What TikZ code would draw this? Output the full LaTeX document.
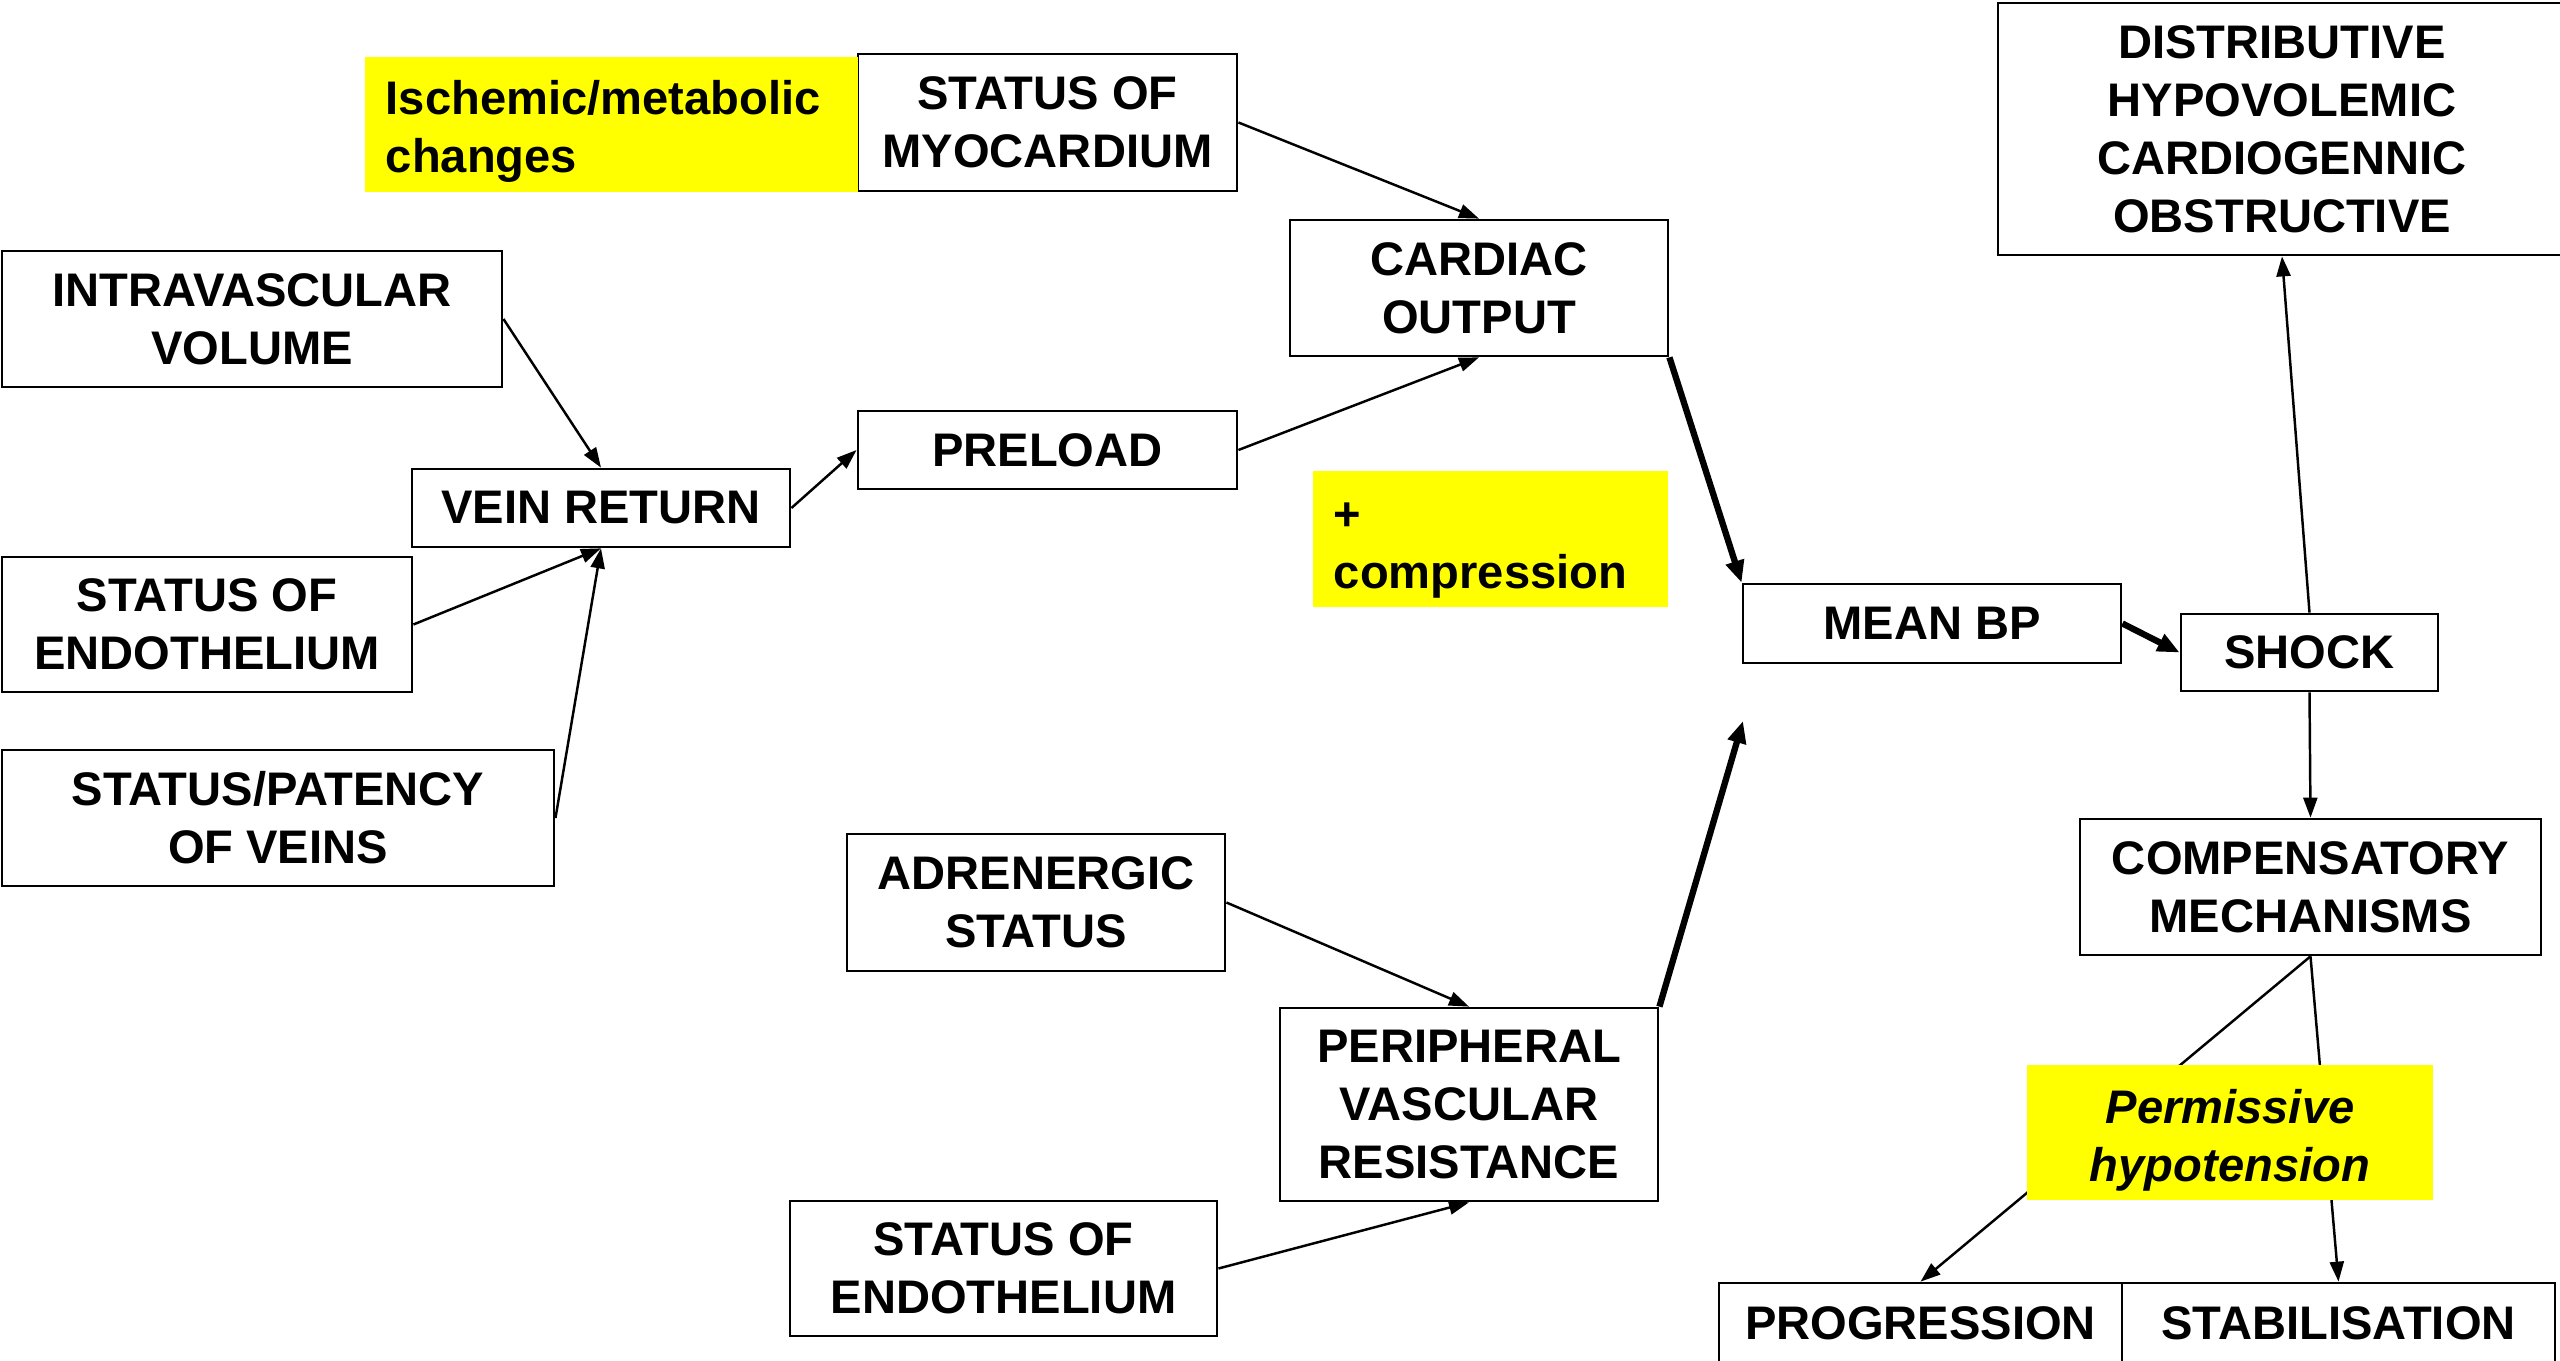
\documentclass[tikz,border=0pt]{standalone}
\usepackage{fontspec}
\setmainfont{Liberation Sans}
\usetikzlibrary{arrows.meta}
\definecolor{hl}{RGB}{255,255,0}
\begin{document}
\begin{tikzpicture}[x=0.01cm,y=-0.01cm,
  lbl/.style={font=\bfseries\fontsize{13.4}{16.5}\selectfont, align=center, inner sep=0pt},
  box/.style={lbl, draw, line width=0.75pt, fill=white},
  note/.style={lbl, fill=hl, align=left, inner xsep=0.21cm, inner ysep=0pt},
  thin/.style={line width=0.7pt, -{Triangle[length=0.2cm,width=0.14cm]}},
  thick/.style={line width=1.8pt, -{Triangle[length=0.22cm,width=0.18cm]}},
]
\useasboundingbox (0,0) rectangle (2560,1361);
\clip (0,0) rectangle (2560,1361);

% boxes
\node[box, minimum width=3.79cm, minimum height=1.37cm] (myo) at (1047.5,122.5) {STATUS OF\\MYOCARDIUM};
\node[box, minimum width=5.00cm, minimum height=1.36cm] (intra) at (252,319) {INTRAVASCULAR\\VOLUME};
\node[box, minimum width=3.78cm, minimum height=1.36cm] (co) at (1479,288) {CARDIAC\\OUTPUT};
\node[box, minimum width=3.79cm, minimum height=0.78cm] (pre) at (1047.5,450) {PRELOAD};
\node[box, minimum width=3.78cm, minimum height=0.78cm] (vein) at (601,508) {VEIN RETURN};
\node[box, minimum width=4.10cm, minimum height=1.35cm] (endoA) at (207,624.5) {STATUS OF\\ENDOTHELIUM};
\node[box, minimum width=5.52cm, minimum height=1.36cm] (pat) at (278,818) {STATUS/PATENCY\\OF VEINS};
\node[box, minimum width=3.78cm, minimum height=0.79cm] (mbp) at (1932,623.5) {MEAN BP};
\node[box, minimum width=2.57cm, minimum height=0.77cm] (shock) at (2309.5,652.5) {SHOCK};
\node[box, minimum width=5.68cm, minimum height=2.52cm] (types) at (2282,129) {DISTRIBUTIVE\\HYPOVOLEMIC\\CARDIOGENNIC\\OBSTRUCTIVE};
\node[box, minimum width=4.61cm, minimum height=1.36cm] (comp) at (2310.5,887) {COMPENSATORY\\MECHANISMS};
\node[box, minimum width=3.78cm, minimum height=1.37cm] (adr) at (1036,902.5) {ADRENERGIC\\STATUS};
\node[box, minimum width=3.78cm, minimum height=1.93cm] (pvr) at (1469,1104.5) {PERIPHERAL\\VASCULAR\\RESISTANCE};
\node[box, minimum width=4.27cm, minimum height=1.35cm] (endoB) at (1003.5,1268.5) {STATUS OF\\ENDOTHELIUM};
\node[box, minimum width=4.03cm, minimum height=0.80cm] (prog) at (1920.5,1323) {PROGRESSION};
\node[box, minimum width=4.33cm, minimum height=0.80cm] (stab) at (2338.5,1323) {STABILISATION};
\coordinate (pvrtip) at (1743,721);

% connectors
\draw[thin] (myo.east) -- (co.north);
\draw[thin] (pre.east) -- (co.south);
\draw[thin] (intra.east) -- (vein.north);
\draw[thin] (vein.east) -- (pre.west);
\draw[thin] (endoA.east) -- (vein.south);
\draw[thin] (pat.east) -- (vein.south);
\draw[thick] (co.south east) -- (mbp.north west);
\draw[thick] (pvr.north east) -- (pvrtip);
\draw[thick] (mbp.east) -- (shock.west);
\draw[thin] (shock.north) -- (types.south);
\draw[thin] (shock.south) -- (comp.north);
\draw[thin] (comp.south) -- (prog.north);
\draw[thin] (comp.south) -- (stab.north);
\draw[thin] (adr.east) -- (pvr.north);
\draw[thin] (endoB.east) -- (pvr.south);

% highlighted notes (drawn last, over the connectors); the struts set the text a little low
\node[note, minimum height=1.35cm, text width=4.51cm] (isch) at (611.5,124.5) {\rule{0pt}{13.5pt}Ischemic/metabolic\\changes};
\node[note, minimum height=1.36cm, text width=3.13cm] (press) at (1490.5,539) {\rule{0pt}{14.2pt}+\\compression};
\node[lbl, fill=hl, minimum width=4.06cm, minimum height=1.35cm, font=\bfseries\itshape\fontsize{13.4}{16.5}\selectfont] (perm) at (2230,1132.5) {\rule{0pt}{14.4pt}Permissive\\hypotension};
\end{tikzpicture}
\end{document}
